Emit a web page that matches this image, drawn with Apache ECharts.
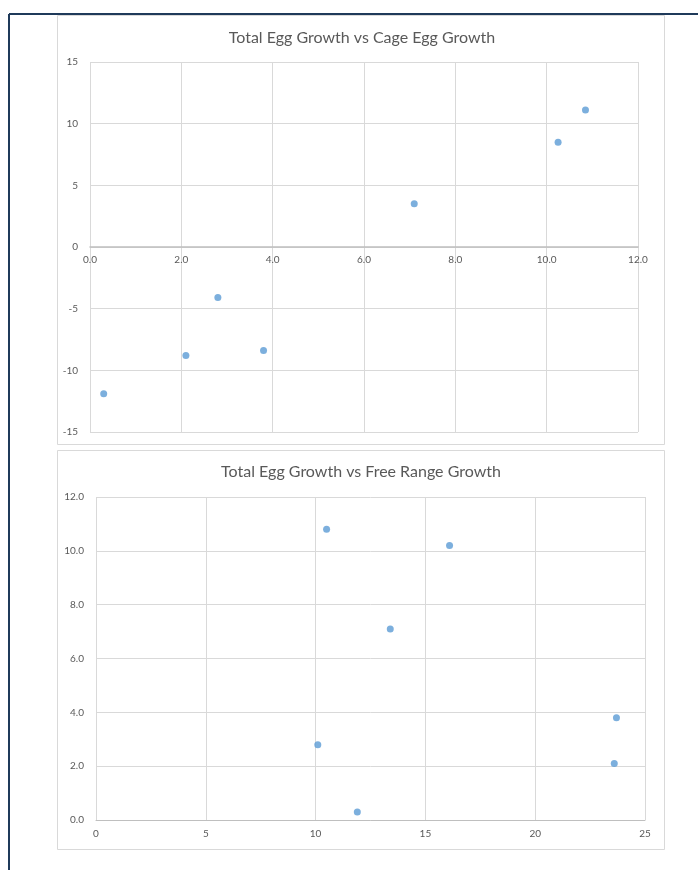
<!DOCTYPE html>
<html><head><meta charset="utf-8">
<script src="https://cdn.jsdelivr.net/npm/echarts@6/dist/echarts.min.js"></script>
<style>
html,body{margin:0;padding:0;background:#fff;}
#c{width:698px;height:870px;}
</style></head>
<body><div id="c"></div>
<script>
// Chart 1: Total Egg Growth vs Cage Egg Growth
const title1 = 'Total Egg Growth vs Cage Egg Growth';
const cageX = [0.3, 2.1, 2.8, 3.8, 7.1, 10.25, 10.85];
const cageY = [-11.9, -8.8, -4.1, -8.4, 3.5, 8.5, 11.1];
// Chart 2: Total Egg Growth vs Free Range Growth
const title2 = 'Total Egg Growth vs Free Range Growth';
const freeX = [10.5, 16.1, 13.4, 23.7, 10.1, 23.6, 11.9];
const freeY = [10.8, 10.2, 7.1, 3.8, 2.8, 2.1, 0.3];

const txt = '#595959', grid = '#D9D9D9', dot = '#5B9BD5';
const font = 'Lato, "Liberation Sans", sans-serif';

function pairs(xs, ys){ return xs.map((x,i)=>[x, ys[i]]); }

const chart = echarts.init(document.getElementById('c'), null, {renderer:'canvas'});
const axLabel = (dec)=>({color: txt, fontSize: 10, fontFamily: font,
  formatter: v => dec ? v.toFixed(1) : String(v)});
chart.setOption({
  animation:false,
  backgroundColor:'#fff',
  graphic:[
    {type:'line', shape:{x1:9,y1:14,x2:698,y2:14}, style:{stroke:'#1F3A5A', lineWidth:2}},
    {type:'line', shape:{x1:9,y1:14,x2:9,y2:870}, style:{stroke:'#1F3A5A', lineWidth:2}},
    {type:'rect', shape:{x:57.5,y:15.5,width:607,height:429}, style:{fill:'none', stroke:'#D9D9D9', lineWidth:1}},
    {type:'rect', shape:{x:57.5,y:450.5,width:607,height:399}, style:{fill:'none', stroke:'#D9D9D9', lineWidth:1}}
  ],
  title:[
    {text:title1, left:357, top:25, textAlign:'center',
     textStyle:{color:txt, fontSize:16, fontWeight:'normal', fontFamily:font}},
    {text:title2, left:356, top:459, textAlign:'center',
     textStyle:{color:txt, fontSize:16, fontWeight:'normal', fontFamily:font}}
  ],
  grid:[
    {left:90, right:60, top:62, bottom:438},
    {left:96, right:53, top:497, bottom:50}
  ],
  xAxis:[
    {type:'value', gridIndex:0, min:0, max:12, interval:2, offset:-185,
     axisLine:{onZero:false, lineStyle:{color:'#BFBFBF', width:1.5}},
     axisTick:{show:false}, axisLabel:Object.assign(axLabel(true),{margin:8}),
     splitLine:{show:true, lineStyle:{color:grid}}},
    {type:'value', gridIndex:1, min:0, max:25, interval:5,
     axisLine:{lineStyle:{color:'#BFBFBF'}},
     axisTick:{show:false}, axisLabel:Object.assign(axLabel(false),{margin:9}),
     splitLine:{show:true, lineStyle:{color:grid}}}
  ],
  yAxis:[
    {type:'value', gridIndex:0, min:-15, max:15, interval:5,
     axisLine:{show:false}, axisTick:{show:false},
     axisLabel:Object.assign(axLabel(false),{margin:12}),
     splitLine:{show:true, lineStyle:{color:grid}}},
    {type:'value', gridIndex:1, min:0, max:12, interval:2,
     axisLine:{show:false}, axisTick:{show:false},
     axisLabel:Object.assign(axLabel(true),{margin:12}),
     splitLine:{show:true, lineStyle:{color:grid}}}
  ],
  series:[
    {type:'scatter', xAxisIndex:0, yAxisIndex:0, data:pairs(cageX,cageY),
     symbolSize:7, itemStyle:{color:dot}},
    {type:'scatter', xAxisIndex:1, yAxisIndex:1, data:pairs(freeX,freeY),
     symbolSize:7, itemStyle:{color:dot}}
  ]
});
</script></body></html>
